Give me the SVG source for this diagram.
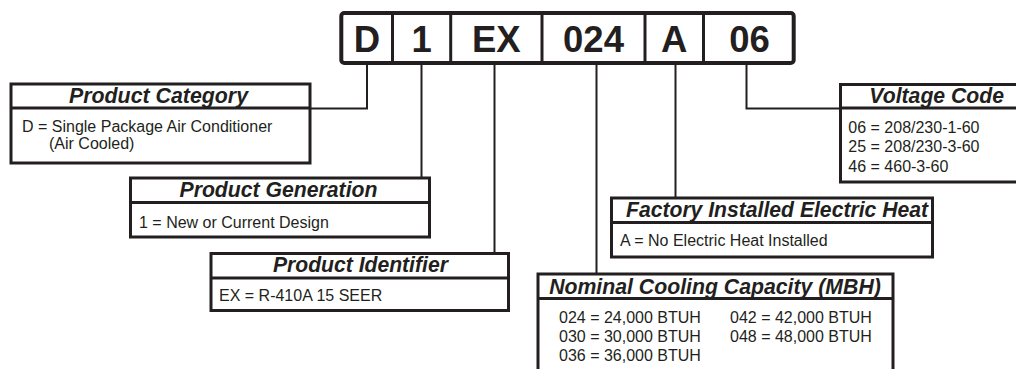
<svg xmlns="http://www.w3.org/2000/svg" width="1016" height="369" viewBox="0 0 1016 369">
<style>
.bx{fill:#fff;stroke:#231f20;stroke-width:3}
.dv{stroke:#231f20;stroke-width:3;fill:none}
.ld{stroke:#231f20;stroke-width:2;fill:none}
.hd{font-family:"Liberation Sans",Arial,sans-serif;font-weight:bold;font-style:italic;font-size:21.5px;fill:#231f20;text-anchor:middle}
.bd{font-family:"Liberation Sans",Arial,sans-serif;font-size:16px;fill:#231f20}
.cd{font-family:"Liberation Sans",Arial,sans-serif;font-weight:bold;font-size:36.5px;fill:#231f20;text-anchor:middle}
</style>
<rect width="1016" height="369" fill="#fff"/>
<g id="connectors">
<polyline class="ld" points="367,65 367,108.5 311,108.5"/>
<line class="ld" x1="421.5" y1="65" x2="421.5" y2="177"/>
<line class="ld" x1="494.5" y1="65" x2="494.5" y2="253"/>
<line class="ld" x1="596.5" y1="65" x2="596.5" y2="274"/>
<line class="ld" x1="675.5" y1="65" x2="675.5" y2="198"/>
<polyline class="ld" points="746.5,65 746.5,108.5 840,108.5"/>
</g>
<g id="code">
<rect x="341.3" y="13" width="452.4" height="50" rx="3" fill="#fff" stroke="#231f20" stroke-width="4"/>
<line class="dv" x1="392.5" y1="13" x2="392.5" y2="63"/>
<line class="dv" x1="450.7" y1="13" x2="450.7" y2="63"/>
<line class="dv" x1="542" y1="13" x2="542" y2="63"/>
<line class="dv" x1="645" y1="13" x2="645" y2="63"/>
<line class="dv" x1="703.5" y1="13" x2="703.5" y2="63"/>
<text class="cd" x="367" y="52">D</text>
<text class="cd" x="421.6" y="52">1</text>
<text class="cd" x="496.3" y="52">EX</text>
<text class="cd" x="593.5" y="52">024</text>
<text class="cd" x="674.3" y="52">A</text>
<text class="cd" x="749.6" y="52">06</text>
</g>
<g id="product-category">
<rect class="bx" x="11" y="84" width="299" height="79"/>
<line class="dv" x1="11" y1="108" x2="310" y2="108"/>
<text class="hd" x="158.5" y="102.5" textLength="179" lengthAdjust="spacingAndGlyphs">Product Category</text>
<text class="bd" x="22" y="131.5">D = Single Package Air Conditioner</text>
<text class="bd" x="49" y="148.5">(Air Cooled)</text>
</g>
<g id="product-generation">
<rect class="bx" x="130.5" y="178" width="299" height="59"/>
<line class="dv" x1="130.5" y1="202.5" x2="429.5" y2="202.5"/>
<text class="hd" x="278.5" y="196.5" textLength="198" lengthAdjust="spacingAndGlyphs">Product Generation</text>
<text class="bd" x="139" y="227.5">1 = New or Current Design</text>
</g>
<g id="product-identifier">
<rect class="bx" x="211" y="253.5" width="297.5" height="57"/>
<line class="dv" x1="211" y1="278" x2="508.5" y2="278"/>
<text class="hd" x="360.4" y="272" textLength="175" lengthAdjust="spacingAndGlyphs">Product Identifier</text>
<text class="bd" x="219" y="300.8">EX = R-410A 15 SEER</text>
</g>
<g id="nominal-cooling-capacity">
<rect class="bx" x="538" y="274" width="355" height="120"/>
<line class="dv" x1="538" y1="298.5" x2="893" y2="298.5"/>
<text class="hd" x="715" y="293.5" textLength="331.7" lengthAdjust="spacingAndGlyphs">Nominal Cooling Capacity (MBH)</text>
<text class="bd" x="559" y="322.7">024 = 24,000 BTUH</text>
<text class="bd" x="559" y="341.7">030 = 30,000 BTUH</text>
<text class="bd" x="559" y="360.7">036 = 36,000 BTUH</text>
<text class="bd" x="730" y="322.7">042 = 42,000 BTUH</text>
<text class="bd" x="730" y="341.7">048 = 48,000 BTUH</text>
</g>
<g id="factory-installed-electric-heat">
<rect class="bx" x="611.5" y="198" width="321" height="59"/>
<line class="dv" x1="611.5" y1="222.5" x2="932.5" y2="222.5"/>
<text class="hd" x="777" y="216.5" textLength="302" lengthAdjust="spacingAndGlyphs">Factory Installed Electric Heat</text>
<text class="bd" x="620" y="245.7">A = No Electric Heat Installed</text>
</g>
<g id="voltage-code">
<rect class="bx" x="840.5" y="84.5" width="200" height="97.5"/>
<line class="dv" x1="840.5" y1="108" x2="1040" y2="108"/>
<text class="hd" x="936.7" y="102.5" textLength="134.7" lengthAdjust="spacingAndGlyphs">Voltage Code</text>
<text class="bd" x="848.3" y="133.3">06 = 208/230-1-60</text>
<text class="bd" x="848.3" y="152.3">25 = 208/230-3-60</text>
<text class="bd" x="848.3" y="171.7">46 = 460-3-60</text>
</g>
</svg>
